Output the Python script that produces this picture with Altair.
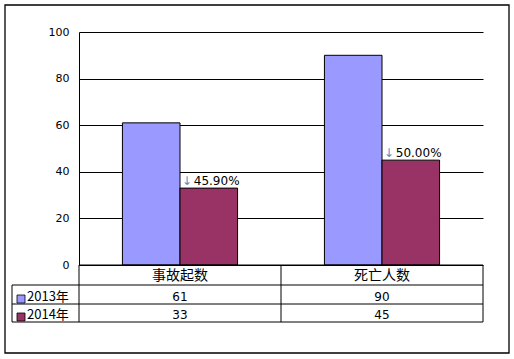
import altair as alt
import pandas as pd

categories = ["事故起数", "死亡人数"]
years = ["2013年", "2014年"]
values_2013 = [61, 90]
values_2014 = [33, 45]
change_labels = ["45.90%", "50.00%"]
y_ticks = [0, 20, 40, 60, 80, 100]
colors = ["#9999FF", "#993366"]

rows = []
for i, c in enumerate(categories):
    rows.append({"category": c, "year": years[0], "value": values_2013[i]})
    rows.append({"category": c, "year": years[1], "value": values_2014[i]})
df = pd.DataFrame(rows)

ann = pd.DataFrame({
    "category": categories,
    "year": [years[1]] * len(categories),
    "value": values_2014,
    "label": change_labels,
})

W, H = 404, 233
CJK = "Noto Sans CJK SC"
NUM = "DejaVu Sans"

xenc = alt.X("category:N", sort=categories,
             scale=alt.Scale(paddingInner=0.43, paddingOuter=0.215), axis=None)
xoff = alt.XOffset("year:N", sort=years, scale=alt.Scale(paddingInner=0, paddingOuter=0))
yscale = alt.Scale(domain=[0, 100], nice=False)
color = alt.Color("year:N", sort=years, scale=alt.Scale(domain=years, range=colors), legend=None)

base = alt.Chart(df)

bars = base.mark_bar(stroke="black", strokeWidth=1).encode(
    x=xenc, xOffset=xoff,
    y=alt.Y("value:Q", scale=yscale, title=None,
            axis=alt.Axis(values=y_ticks, grid=True, gridColor="black", gridOpacity=1,
                          domain=True, domainColor="black", ticks=False,
                          labelPadding=10, labelFontSize=11, labelFont=NUM,
                          labelColor="black")),
    color=color,
)

arrow = alt.Chart(ann).mark_text(align="left", baseline="alphabetic", dx=-27, dy=-3,
                                 fontSize=12, font=NUM, color="#3399CC").encode(
    x=xenc, xOffset=xoff, y=alt.Y("value:Q", scale=yscale), text=alt.value("↓"))
pct = alt.Chart(ann).mark_text(align="left", baseline="alphabetic", dx=-15, dy=-3,
                               fontSize=12, font=NUM, color="black").encode(
    x=xenc, xOffset=xoff, y=alt.Y("value:Q", scale=yscale), text="label:N")

# data table
header = alt.Chart(pd.DataFrame({"category": categories})).mark_text(
    fontSize=14, font=CJK, color="black", baseline="middle").encode(
    x=xenc, y=alt.value(244), text="category:N")

row_y = {years[0]: 265, years[1]: 283}
swatch_y = {years[0]: (263, 271), years[1]: (281, 289)}
table_layers = []
for yr in years:
    sub = df[df["year"] == yr]
    table_layers.append(
        alt.Chart(sub).mark_text(fontSize=12, font=NUM, color="black", baseline="middle").encode(
            x=xenc, y=alt.value(row_y[yr]), text="value:Q"))
    lab = pd.DataFrame({"year": [yr]})
    table_layers.append(
        alt.Chart(lab).mark_rect(stroke="black", strokeWidth=0.8).encode(
            x=alt.value(-62), x2=alt.value(-54),
            y=alt.value(swatch_y[yr][0]), y2=alt.value(swatch_y[yr][1]), color=color))
    table_layers.append(
        alt.Chart(lab).mark_text(fontSize=13, font=CJK, color="black", align="left",
                                 baseline="middle").encode(
            x=alt.value(-52), y=alt.value(row_y[yr]), text="year:N"))

lines = []
def hline(x1, x2, y):
    return alt.Chart(pd.DataFrame({"k": [0]})).mark_rule(color="black", strokeWidth=1).encode(
        x=alt.value(x1), x2=alt.value(x2), y=alt.value(y))
def vline(x, y1, y2):
    return alt.Chart(pd.DataFrame({"k": [0]})).mark_rule(color="black", strokeWidth=1).encode(
        x=alt.value(x), y=alt.value(y1), y2=alt.value(y2))

lines += [hline(0, W, H), hline(-67, W, 253), hline(-67, W, 272), hline(-67, W, 290)]
lines += [vline(-67, 253, 290), vline(0, H, 290), vline(202, H, 290), vline(W, H, 290)]

border = alt.Chart(pd.DataFrame({"k": [0]})).mark_rect(
    fill=None, stroke="black", strokeWidth=1.3).encode(
    x=alt.value(-74), x2=alt.value(430), y=alt.value(-27), y2=alt.value(321))

chart = alt.layer(bars, arrow, pct, header, *table_layers, *lines, border).properties(
    width=W, height=H,
    autosize=alt.AutoSizeParams(type="none"),
    padding={"left": 79, "top": 32, "right": 31, "bottom": 94},
    background="white",
).configure_view(stroke=None)

chart.save("out.html", embed_options={"renderer": "svg", "actions": False})
